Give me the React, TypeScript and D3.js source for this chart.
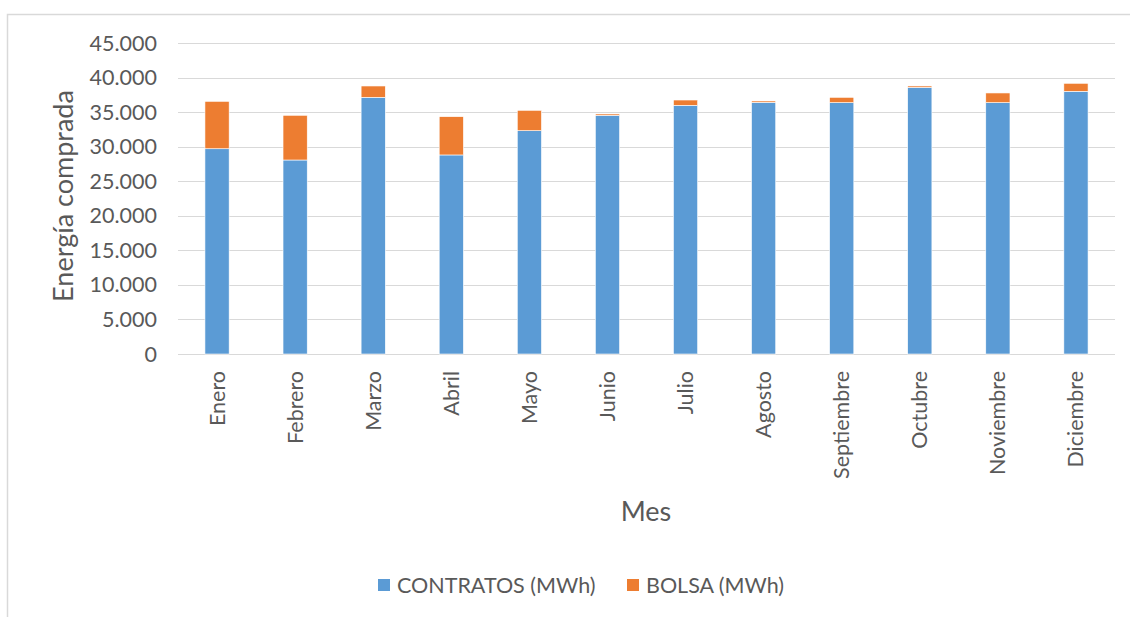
import React from "react";
import * as d3 from "d3";

const months = ["Enero","Febrero","Marzo","Abril","Mayo","Junio","Julio","Agosto","Septiembre","Octubre","Noviembre","Diciembre"];
const contratos = [29700, 28070, 37140, 28800, 32310, 34540, 35980, 36420, 36370, 38580, 36370, 38010];
const bolsa = [6860, 6470, 1640, 5540, 2950, 190, 770, 190, 770, 200, 1400, 1160];
const yTicks = [0, 5000, 10000, 15000, 20000, 25000, 30000, 35000, 40000, 45000];
const seriesNames = ["CONTRATOS (MWh)", "BOLSA (MWh)"];
const colors = ["#5b9bd5", "#ed7d31"];

const W = 1130, H = 617;
const left = 178, right = 1115, top = 43, bottom = 354;
const font = "Lato, 'Open Sans', sans-serif";
const textColor = "#595959";

export default function App() {
  const x = d3.scaleBand<string>().domain(months).range([left, right]).paddingInner(0.69).paddingOuter(0.345);
  const y = d3.scaleLinear().domain([0, 45000]).range([bottom, top]);
  const fmt = (v: number) => d3.format(",")(v).replace(/,/g, ".");
  const stacked = months.map((m, i) => ({ m, c: contratos[i], b: bolsa[i] }));
  return (
    <svg width={W} height={H} style={{ position: "absolute", left: 0, top: 0, background: "#fff" }}>
      <rect x={7.5} y={14.5} width={1300} height={800} fill="#fff" stroke="#d9d9d9" strokeWidth={1.5} />
      {yTicks.map(t => (
        <g key={t}>
          <line x1={left} x2={right} y1={Math.round(y(t)) + 0.5} y2={Math.round(y(t)) + 0.5} stroke="#d9d9d9" strokeWidth={1} />
          <text x={157} y={y(t)} dy="0.35em" textAnchor="end" fontFamily={font} fontSize={21.5} fill={textColor}>{fmt(t)}</text>
        </g>
      ))}
      {stacked.map(d => (
        <g key={d.m}>
          <rect x={x(d.m)} y={y(d.c)} width={x.bandwidth()} height={y(0) - y(d.c)} fill={colors[0]} stroke="#fff" strokeWidth={0.6} />
          <rect x={x(d.m)} y={y(d.c + d.b)} width={x.bandwidth()} height={y(d.c) - y(d.c + d.b)} fill={colors[1]} stroke="#fff" strokeWidth={0.6} />
        </g>
      ))}
      {months.map(m => {
        const cx = (x(m) as number) + x.bandwidth() / 2;
        return (
          <text key={m} transform={`translate(${cx},${371}) rotate(-90)`} dy="0.35em" textAnchor="end" fontFamily={font} fontSize={21.5} fill={textColor}>{m}</text>
        );
      })}
      <text transform={`translate(64,196) rotate(-90)`} dy="0.35em" textAnchor="middle" fontFamily={font} fontSize={27} fill={textColor}>Energía comprada</text>
      <text x={646} y={512} dy="0.35em" textAnchor="middle" fontFamily={font} fontSize={27} fill={textColor}>Mes</text>
      <rect x={378} y={579} width={12} height={12} fill={colors[0]} />
      <text x={397} y={585} dy="0.35em" fontFamily={font} fontSize={21.5} fill={textColor}>{seriesNames[0]}</text>
      <rect x={627} y={579} width={12} height={12} fill={colors[1]} />
      <text x={646} y={585} dy="0.35em" fontFamily={font} fontSize={21.5} fill={textColor}>{seriesNames[1]}</text>
    </svg>
  );
}
